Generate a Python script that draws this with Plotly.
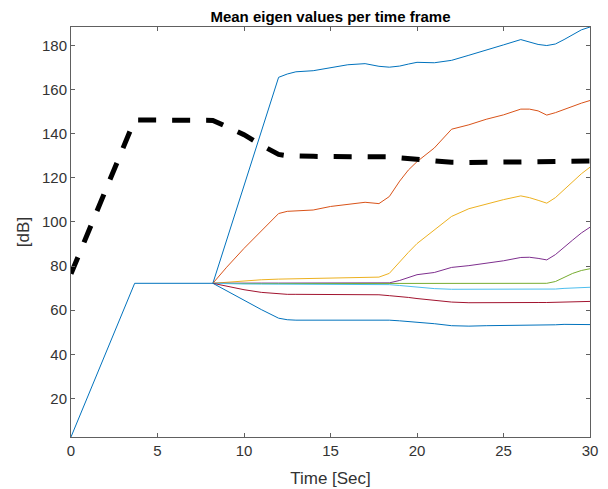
import plotly.graph_objects as go

# Time frames (seconds)
time_s = [0, 3.68, 8.2, 9, 10, 11, 12, 12.5, 13, 14, 15, 16, 17, 17.8, 18.4, 19, 19.5, 20,
          21, 22, 23, 24, 25, 26, 26.5, 27, 27.5, 28, 28.5, 29, 29.5, 30]

# Eigen values (dB), sorted from largest to smallest
eig1 = [2.6, 72.2, 72.2, 91.8, 116.4, 140.9, 165.5, 167.0, 168.0, 168.5, 170.0, 171.2, 171.7, 170.5,
        170.1, 170.6, 171.5, 172.3, 172.1, 173.2, 175.5, 178.0, 180.2, 182.6, 181.5, 180.4, 179.9,
        180.6, 182.6, 185.0, 187.0, 188.3]
eig2 = [2.6, 72.2, 72.2, 79.5, 88.0, 95.8, 103.8, 104.8, 105.0, 105.4, 107.0, 107.8, 108.9, 108.3,
        111.5, 118.5, 123.5, 127.3, 133.5, 142.0, 144.0, 146.5, 148.5, 151.1, 151.1, 150.3, 148.4,
        149.5, 151.0, 152.4, 153.8, 155.0]
eig3 = [2.6, 72.2, 72.2, 72.7, 73.4, 73.8, 74.1, 74.2, 74.3, 74.5, 74.7, 74.8, 74.9, 75.0,
        76.7, 82.0, 86.2, 90.2, 96.2, 102.5, 106.0, 108.2, 110.1, 111.8, 111.0, 109.8, 108.5,
        111.0, 114.5, 118.2, 121.8, 124.8]
eig4 = [2.6, 72.2, 72.2, 72.3, 72.3, 72.3, 72.3, 72.3, 72.3, 72.3, 72.3, 72.3, 72.3, 72.3,
        72.4, 73.5, 74.8, 76.1, 77.1, 79.4, 80.2, 81.3, 82.4, 83.9, 84.0, 83.5, 82.8,
        85.2, 88.3, 91.8, 95.0, 97.6]
eig5 = [2.6, 72.2, 72.2, 72.1, 72.1, 72.1, 72.1, 72.1, 72.1, 72.1, 72.1, 72.1, 72.1, 72.1,
        72.1, 72.1, 72.1, 72.1, 72.1, 72.1, 72.1, 72.1, 72.1, 72.1, 72.1, 72.1, 72.2,
        73.0, 75.0, 76.7, 78.0, 78.8]
eig6 = [2.6, 72.2, 72.2, 72.0, 71.9, 71.85, 71.8, 71.8, 71.8, 71.8, 71.75, 71.75, 71.7, 71.7,
        71.6, 71.2, 70.8, 70.4, 69.8, 69.5, 69.5, 69.5, 69.5, 69.5, 69.5, 69.5, 69.5,
        69.6, 69.9, 70.1, 70.3, 70.4]
eig7 = [2.6, 72.2, 72.2, 70.8, 69.3, 68.1, 67.3, 67.2, 67.2, 67.2, 67.2, 67.2, 67.2, 67.0,
        66.6, 66.3, 65.8, 65.3, 64.4, 63.7, 63.4, 63.5, 63.5, 63.5, 63.5, 63.5, 63.5,
        63.6, 63.8, 64.0, 64.0, 64.0]
eig8 = [2.6, 72.2, 72.2, 68.8, 64.3, 60.3, 56.4, 55.7, 55.5, 55.5, 55.5, 55.5, 55.5, 55.8,
        55.5, 55.2, 54.9, 54.5, 53.9, 53.0, 52.8, 53.0, 53.1, 53.1, 53.1, 53.1, 53.1,
        53.4, 53.6, 53.5, 53.5, 53.5]
mean_db = [76.5, 146.2, 146.0, 143.3, 139.5, 134.8, 130.6, 130.0, 129.8, 129.7, 129.6, 129.7, 129.9,
           129.8, 129.5, 129.0, 128.6, 128.3, 127.5, 127.0, 126.9, 127.0, 127.0, 127.0, 127.0,
           126.9, 126.8, 127.0, 127.2, 127.4, 127.5, 127.6]

eig_series = [eig1, eig2, eig3, eig4, eig5, eig6, eig7, eig8]
colors = ["#0072BD", "#D95319", "#EDB120", "#7E2F8E", "#77AC30", "#4DBEEE", "#A2142F", "#0072BD"]

x_ticks = [0, 5, 10, 15, 20, 25, 30]
y_ticks = [20, 40, 60, 80, 100, 120, 140, 160, 180]

fig = go.Figure()
n = len(eig_series)
for i, (vals, col) in enumerate(zip(eig_series, colors)):
    # all eigen values coincide before the fan-out; draw that shared part once (last, on top)
    start = 0 if i == n - 1 else 2
    fig.add_trace(go.Scatter(x=time_s[start:], y=vals[start:], mode="lines",
                             line=dict(color=col, width=1), showlegend=False))
fig.add_trace(go.Scatter(x=time_s, y=mean_db, mode="lines",
                         line=dict(color="black", width=5, dash="18px,16px"), showlegend=False))

axis_col = "#606060"
text_col = "#333333"
font_family = "Liberation Sans, Arial, Helvetica, sans-serif"
fig.update_layout(
    width=608, height=489,
    margin=dict(l=71, r=18, t=27, b=52),
    paper_bgcolor="white", plot_bgcolor="white",
    font=dict(family=font_family, size=15, color=text_col),
    title=dict(text="<b>Mean eigen values per time frame</b>",
               x=0.5, xref="paper", xanchor="center",
               y=1 - 17 / 489, yref="container", yanchor="middle",
               font=dict(size=15, color="black")),
    xaxis=dict(range=[0, 30], tickvals=x_ticks, ticks="inside", ticklen=4, tickcolor=axis_col,
               showline=True, linecolor=axis_col, linewidth=1, mirror="ticks",
               showgrid=False, zeroline=False, tickfont=dict(size=15, color=text_col),
               automargin=False,
               title=dict(text="Time [Sec]", standoff=14, font=dict(size=17, color=text_col))),
    yaxis=dict(range=[2.58, 188.3], tickvals=y_ticks, ticks="inside", ticklen=4, tickcolor=axis_col,
               showline=True, linecolor=axis_col, linewidth=1, mirror="ticks",
               showgrid=False, zeroline=False, tickfont=dict(size=15, color=text_col),
               automargin=False,
               title=dict(text="[dB]", standoff=8, font=dict(size=17, color=text_col))),
)

fig.write_html("out.html")
